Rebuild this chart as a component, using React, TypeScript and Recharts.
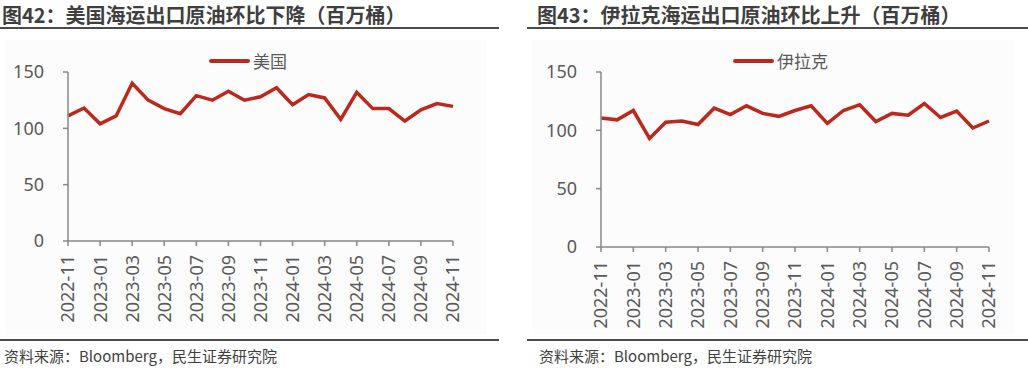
import React from 'react';
import { LineChart, Line, XAxis, YAxis } from 'recharts';

// monthly, 2022-11 .. 2024-11
const months = [
  '2022-11', '2022-12', '2023-01', '2023-02', '2023-03', '2023-04', '2023-05', '2023-06', '2023-07',
  '2023-08', '2023-09', '2023-10', '2023-11', '2023-12', '2024-01', '2024-02', '2024-03', '2024-04',
  '2024-05', '2024-06', '2024-07', '2024-08', '2024-09', '2024-10', '2024-11',
];
// 美国海运出口原油 (百万桶)
const usExports = [
  111, 118, 104, 111, 140, 125, 117.5, 113, 129, 125, 133, 125, 128,
  136, 121, 130, 127, 108, 132, 117.5, 117.5, 106.5, 116.5, 122, 119.5,
];
// 伊拉克海运出口原油 (百万桶)
const iraqExports = [
  110.5, 109, 117, 93, 107, 108, 105, 119, 113.5, 121, 114.5, 112, 117,
  121, 106, 117, 122, 107.5, 114.5, 113, 123, 111, 116.5, 102, 108,
];
const yTicks = [0, 50, 100, 150];

const RED = '#bd281d';
const AXIS = '#898989';
const TEXT = '#595959';
const DARK = '#404040';
const FONT = '"Noto Sans", "Noto Sans CJK SC", sans-serif';
const CJK = '"Noto Sans CJK SC", "Noto Sans", sans-serif';

const usData = months.map((m, i) => ({ month: m, value: usExports[i] }));
const iraqData = months.map((m, i) => ({ month: m, value: iraqExports[i] }));

const XTick = (props: any) => {
  const { x, y, payload } = props;
  return (
    <g transform={`translate(${x},${y})`}>
      <text
        transform="rotate(-90)"
        x={-7}
        y={0}
        dy="0.36em"
        textAnchor="end"
        fill={TEXT}
        fontSize={18}
        fontFamily={FONT}
      >
        {payload.value}
      </text>
    </g>
  );
};

interface PanelProps {
  left: number;
  title: string;
  titleX: number;
  lineX0: number;
  lineX1: number;
  name: string;
  data: { month: string; value: number }[];
  margin: { top: number; right: number; left: number; bottom: number };
  legendX: number;
}

const Panel: React.FC<PanelProps> = ({ left, title, titleX, lineX0, lineX1, name, data, margin, legendX }) => (
  <>
    <div style={{ position: 'absolute', left: titleX, top: 2, fontSize: 20, fontWeight: 700, color: '#3f3f3f', fontFamily: CJK, whiteSpace: 'nowrap', lineHeight: '26px' }}>
      {title}
    </div>
    <div style={{ position: 'absolute', left: lineX0, width: lineX1 - lineX0, top: 27, height: 2, background: '#4a4a4a' }} />
    <div style={{ position: 'absolute', left: lineX0 + 5, width: 482, top: 40, height: 295, background: '#fcfcfc' }} />
    <div style={{ position: 'absolute', left, top: 0 }}>
      <LineChart width={514} height={340} data={data} margin={margin}>
        <XAxis
          dataKey="month"
          interval={1}
          height={80}
          stroke={AXIS}
          strokeWidth={1.5}
          tickSize={5}
          tick={<XTick />}
        />
        <YAxis
          domain={[0, 150]}
          ticks={yTicks}
          width={50}
          stroke={AXIS}
          strokeWidth={1.5}
          tickSize={5}
          tickMargin={19}
          tick={{ fill: TEXT, fontSize: 18, fontFamily: FONT }}
        />
        <Line type="linear" dataKey="value" name={name} stroke={RED} strokeWidth={3.5} dot={false} isAnimationActive={false} />
      </LineChart>
    </div>
    <div style={{ position: 'absolute', left: legendX, top: 49, display: 'flex', alignItems: 'center', fontFamily: CJK, fontSize: 17, color: TEXT, lineHeight: '24px' }}>
      <span style={{ display: 'inline-block', width: 41, height: 4, borderRadius: 2, background: RED, marginRight: 3 }} />
      {name}
    </div>
    <div style={{ position: 'absolute', left: lineX0, width: lineX1 - lineX0, top: 339, height: 2, background: '#4a4a4a' }} />
    <div style={{ position: 'absolute', left: titleX + 2, top: 345, fontSize: 15, color: DARK, fontFamily: CJK, whiteSpace: 'nowrap', lineHeight: '22px' }}>
      资料来源：Bloomberg，民生证券研究院
    </div>
  </>
);

export default function App() {
  return (
    <div style={{ position: 'absolute', left: 0, top: 0, width: 1028, height: 368, background: '#ffffff', overflow: 'hidden' }}>
      <Panel
        left={0}
        title="图42：美国海运出口原油环比下降（百万桶）"
        titleX={2}
        lineX0={0}
        lineX1={499}
        name="美国"
        data={usData}
        margin={{ top: 72, right: 61, left: 18, bottom: 19 }}
        legendX={209}
      />
      <Panel
        left={514}
        title="图43：伊拉克海运出口原油环比上升（百万桶）"
        titleX={537}
        lineX0={527}
        lineX1={1028}
        name="伊拉克"
        data={iraqData}
        margin={{ top: 72, right: 39, left: 37, bottom: 13 }}
        legendX={733}
      />
    </div>
  );
}
